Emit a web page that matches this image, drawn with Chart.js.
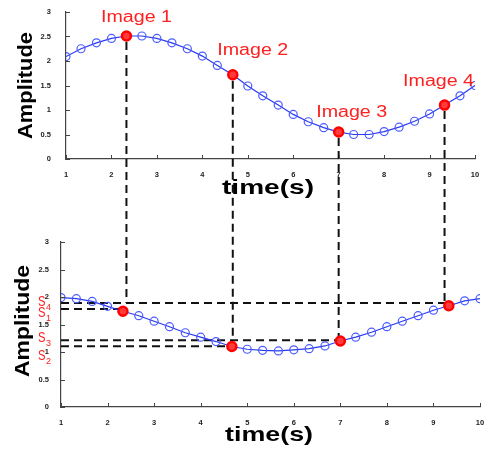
<!DOCTYPE html>
<html>
<head>
<meta charset="utf-8">
<script src="https://cdn.jsdelivr.net/npm/chart.js@4.4.0/dist/chart.umd.min.js"></script>
<style>
  html, body { margin:0; padding:0; background:#fff; }
  #wrap { position:relative; width:490px; height:450px; }
  #wrap canvas { position:absolute; left:0; top:0; }
</style>
</head>
<body>
<div id="wrap">
  <canvas id="topChart" width="490" height="450"></canvas>
  <canvas id="botChart" width="490" height="450"></canvas>
</div>
<script>
// ----- data -----
const times = [1, 1.33, 1.67, 2, 2.33, 2.67, 3, 3.33, 3.67, 4, 4.33, 4.67, 5, 5.33,
               5.67, 6, 6.33, 6.67, 7, 7.33, 7.67, 8, 8.33, 8.67, 9, 9.33, 9.67, 10];
const topValues = [2.09, 2.25, 2.37, 2.46, 2.51, 2.51, 2.46, 2.37, 2.25, 2.10, 1.91, 1.72, 1.49, 1.29,
                   1.10, 0.91, 0.76, 0.64, 0.55, 0.50, 0.50, 0.56, 0.65, 0.77, 0.92, 1.10, 1.29, 1.50];
const botValues = [1.99, 1.97, 1.92, 1.83, 1.74, 1.66, 1.56, 1.46, 1.35, 1.27, 1.19, 1.10, 1.05, 1.03,
                   1.02, 1.04, 1.06, 1.11, 1.20, 1.27, 1.36, 1.46, 1.56, 1.66, 1.76, 1.84, 1.93, 1.97];
const keyIdx = [4, 11, 18, 25];                 // sampled points (Image 1..4 / S1..S4)
const imageLabels = ['Image 1', 'Image 2', 'Image 3', 'Image 4'];
const sLevels = [1.78, 1.105, 1.215, 1.89];     // dashed levels S1..S4
const sDigits = ['1', '2', '3', '4'];
const verticalEnd = [3, 2, 2, 3];               // which S level each vertical stops at
const xTicks = [1, 10, 1];                      // min, max, step
const yTicks = [0, 3, 0.5];

// ----- styling -----
const FONT = "'Liberation Sans', Arial, sans-serif";
const RED = '#ff2020';
const imgLabelOffset = [[10, -14], [20, -20], [13, -15], [-6, -19]];
const sLabelOffset = [3, 9, -3, -2];
const SPLIT_Y = 222;
const DASH = [8, 5];

function fitText(ctx, text, x, y, font, width, rot, baseline){
  ctx.save();
  ctx.font = font;
  const w = ctx.measureText(text).width;
  ctx.translate(x, y);
  if(rot) ctx.rotate(rot);
  ctx.scale(width / w, 1);
  ctx.textAlign = 'center';
  ctx.textBaseline = baseline || 'alphabetic';
  ctx.fillText(text, 0, 0);
  ctx.restore();
}

function dashed(ctx, x1, y1, x2, y2, offset){
  ctx.save();
  ctx.strokeStyle = '#111';
  ctx.lineWidth = 2;
  ctx.setLineDash(DASH);
  ctx.lineDashOffset = offset || 0;
  ctx.beginPath();
  ctx.moveTo(x1, y1);
  ctx.lineTo(x2, y2);
  ctx.stroke();
  ctx.restore();
}

// MATLAB style tick marks pointing into the plot
const innerTicks = {
  id: 'innerTicks',
  afterDraw(chart){
    const {ctx, chartArea:a, scales:{x, y}} = chart;
    ctx.save();
    ctx.strokeStyle = '#444';
    ctx.lineWidth = 1;
    ctx.beginPath();
    x.ticks.forEach(t=>{
      const px = Math.round(x.getPixelForValue(t.value)) + 0.5;
      ctx.moveTo(px, a.bottom); ctx.lineTo(px, a.bottom - 4);
    });
    y.ticks.forEach(t=>{
      const py = Math.round(y.getPixelForValue(t.value)) + 0.5;
      ctx.moveTo(a.left, py); ctx.lineTo(a.left + 4, py);
    });
    ctx.stroke();
    ctx.restore();
  }
};

function makeOptions(padding, yWidth, yPad){
  const tickFont = { family: FONT, size: 7.5, weight: 'bold' };
  return {
    responsive: false,
    animation: false,
    devicePixelRatio: 1,
    events: [],
    layout: { padding },
    plugins: { legend: { display:false }, tooltip: { enabled:false } },
    scales: {
      x: {
        type: 'linear', min: xTicks[0], max: xTicks[1],
        ticks: { stepSize: xTicks[2], font: tickFont, color: '#222', padding: 3, maxRotation: 0, autoSkip: false,
                 callback: v => String(v) },
        grid: { display: false },
        border: { color: '#444', width: 1.2 },
        afterFit: s => { s.height = 20; }
      },
      y: {
        type: 'linear', min: yTicks[0], max: yTicks[1],
        ticks: { stepSize: yTicks[2], font: tickFont, color: '#222', padding: yPad,
                 callback: v => String(v) },
        grid: { display: false },
        border: { color: '#444', width: 1.2 },
        afterFit: s => { s.width = yWidth; }
      }
    }
  };
}

function seriesSets(values){
  return [{
    data: times.map((t, i)=>({ x: t, y: values[i] })),
    order: 2,
    borderColor: '#2a3af0',
    borderWidth: 1.2,
    pointRadius: 4,
    pointBorderColor: '#4a5cff',
    pointBackgroundColor: 'rgba(0,0,0,0)',
    pointBorderWidth: 1.2,
    tension: 0
  },{
    data: keyIdx.map(i=>({ x: times[i], y: values[i] })),
    order: 1,
    showLine: false,
    pointRadius: 4.5,
    pointBorderWidth: 2.5,
    pointBorderColor: '#ff0000',
    pointBackgroundColor: '#ff3a3a'
  }];
}

// ----- upper chart -----
const topChart = new Chart(document.getElementById('topChart'), {
  type: 'line',
  data: { datasets: seriesSets(topValues) },
  options: makeOptions({ left: 0, right: 15, top: 12, bottom: 271 }, 66, 7),
  plugins: [innerTicks, {
    id: 'topExtras',
    beforeDatasetsDraw(chart){
      const {ctx, scales:{x, y}} = chart;
      keyIdx.forEach(i=>{
        const px = x.getPixelForValue(times[i]);
        const py = y.getPixelForValue(topValues[i]) + 6;
        dashed(ctx, px, py, px, SPLIT_Y, 0);
      });
    },
    afterDraw(chart){
      const {ctx, chartArea:a, scales:{x, y}} = chart;
      ctx.fillStyle = RED;
      keyIdx.forEach((i, k)=>{
        const px = x.getPixelForValue(times[i]) + imgLabelOffset[k][0];
        const py = y.getPixelForValue(topValues[i]) + imgLabelOffset[k][1];
        fitText(ctx, imageLabels[k], px, py, '16px ' + FONT, 71);
      });
      ctx.fillStyle = '#000';
      fitText(ctx, 'Amplitude', 26, (a.top + a.bottom) / 2, 'bold 20px ' + FONT, 107, -Math.PI / 2, 'middle');
      fitText(ctx, 'time(s)', 268, 193.5, 'bold 21px ' + FONT, 92);
    }
  }]
});

// ----- lower chart -----
const botChart = new Chart(document.getElementById('botChart'), {
  type: 'line',
  data: { datasets: seriesSets(botValues) },
  options: makeOptions({ left: 0, right: 10, top: 242, bottom: 23 }, 61, 4),
  plugins: [innerTicks, {
    id: 'botExtras',
    beforeDatasetsDraw(chart){
      const {ctx, chartArea:a, scales:{x, y}} = chart;
      const tx = topChart.scales.x, ty = topChart.scales.y;
      // horizontal levels S1..S4
      keyIdx.forEach((i, k)=>{
        const py = y.getPixelForValue(sLevels[k]);
        dashed(ctx, a.left, py, x.getPixelForValue(times[i]), py, 0);
      });
      // lower halves of the verticals coming from the upper plot
      keyIdx.forEach((i, k)=>{
        const px = tx.getPixelForValue(times[i]);
        const start = ty.getPixelForValue(topValues[i]) + 6;
        const end = y.getPixelForValue(sLevels[verticalEnd[k]]);
        dashed(ctx, px, SPLIT_Y, px, end, SPLIT_Y - start);
      });
    },
    afterDraw(chart){
      const {ctx, scales:{y}} = chart;
      ctx.save();
      ctx.fillStyle = RED;
      ctx.textBaseline = 'alphabetic';
      ctx.textAlign = 'left';
      sLevels.forEach((lv, k)=>{
        const cy = y.getPixelForValue(lv) + sLabelOffset[k];
        ctx.save();
        ctx.translate(38, cy + 5);
        ctx.scale(0.8, 1);
        ctx.font = '14px ' + FONT;
        ctx.fillText('S', 0, 0);
        ctx.restore();
        ctx.font = '9px ' + FONT;
        ctx.fillText(sDigits[k], 46, cy + 9);
      });
      ctx.restore();
      ctx.fillStyle = '#000';
      fitText(ctx, 'Amplitude', 23, 321, 'bold 21px ' + FONT, 112, -Math.PI / 2, 'middle');
      fitText(ctx, 'time(s)', 269, 441, 'bold 21px ' + FONT, 88);
    }
  }]
});
</script>
</body>
</html>
